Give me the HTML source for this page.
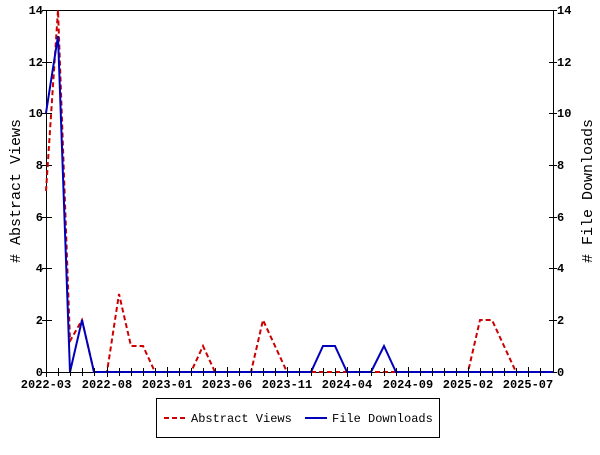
<!DOCTYPE html><html><head><style>body{margin:0;background:#fff}svg{font-family:"Liberation Mono",monospace}</style></head><body>
<svg width="600" height="450" xmlns="http://www.w3.org/2000/svg">
<rect width="600" height="450" fill="#fff"/>
<g stroke="#000" stroke-width="1" fill="none">
<rect x="46.5" y="10.5" width="507" height="362"/>
<path d="M42,372.5h10M42,320.5h10M42,268.5h10M42,217.5h10M42,165.5h10M42,113.5h10M42,62.5h10M42,10.5h10M549,372.5h8M549,320.5h8M549,268.5h8M549,217.5h8M549,165.5h8M549,113.5h8M549,62.5h8M549,10.5h8"/>
</g>
<g font-size="12" font-weight="bold" fill="#000" text-anchor="end">
<text x="43" y="376">0</text><text x="43" y="324">2</text><text x="43" y="272">4</text><text x="43" y="221">6</text><text x="43" y="169">8</text><text x="43" y="117">10</text><text x="43" y="66">12</text><text x="43" y="14">14</text>
</g>
<g font-size="12" font-weight="bold" fill="#000" text-anchor="start">
<text x="557" y="376">0</text><text x="557" y="324">2</text><text x="557" y="272">4</text><text x="557" y="221">6</text><text x="557" y="169">8</text><text x="557" y="117">10</text><text x="557" y="66">12</text><text x="557" y="14">14</text>
</g>
<g font-size="12" font-weight="bold" fill="#000" text-anchor="middle">
<text x="46" y="388">2022-03</text><text x="107" y="388">2022-08</text><text x="167" y="388">2023-01</text><text x="227" y="388">2023-06</text><text x="287" y="388">2023-11</text><text x="347" y="388">2024-04</text><text x="408" y="388">2024-09</text><text x="468" y="388">2025-02</text><text x="528" y="388">2025-07</text>
</g>
<text transform="translate(20,191) rotate(-90)" font-size="15" text-anchor="middle" fill="#000">&#35; Abstract Views</text>
<text transform="translate(592,191) rotate(-90)" font-size="15" text-anchor="middle" fill="#000">&#35; File Downloads</text>
<polyline fill="none" stroke="#cc0000" stroke-width="2" stroke-dasharray="5,3" points="46,191 58,10 70,341 82,320 94,372 107,372 119,294 131,346 143,346 155,372 167,372 179,372 191,372 203,346 215,372 227,372 239,372 251,372 263,320 275,346 287,372 299,372 311,372 323,372 335,372 347,372 359,372 371,372 384,372 396,372 408,372 420,372 432,372 444,372 456,372 468,372 480,320 492,320 504,346 516,372 528,372 540,372 553,372"/>
<polyline fill="none" stroke="#0000bb" stroke-width="2" points="46,113 58,36 70,372 82,320 94,372 107,372 119,372 131,372 143,372 155,372 167,372 179,372 191,372 203,372 215,372 227,372 239,372 251,372 263,372 275,372 287,372 299,372 311,372 323,346 335,346 347,372 359,372 371,372 384,346 396,372 408,372 420,372 432,372 444,372 456,372 468,372 480,372 492,372 504,372 516,372 528,372 540,372 553,372"/>
<g stroke="#000">
<path d="M46.5,367v10M58.5,368v8M70.5,368v8M82.5,368v8M94.5,368v8M107.5,367v10M119.5,368v8M131.5,368v8M143.5,368v8M155.5,368v8M167.5,367v10M179.5,368v8M191.5,368v8M203.5,368v8M215.5,368v8M227.5,367v10M239.5,368v8M251.5,368v8M263.5,368v8M275.5,368v8M287.5,367v10M299.5,368v8M311.5,368v8M323.5,368v8M335.5,368v8M347.5,367v10M359.5,368v8M371.5,368v8M384.5,368v8M396.5,368v8M408.5,367v10M420.5,368v8M432.5,368v8M444.5,368v8M456.5,368v8M468.5,367v10M480.5,368v8M492.5,368v8M504.5,368v8M516.5,368v8M528.5,367v10M540.5,368v8"/>
</g>
<rect x="156.5" y="398.5" width="283" height="39" fill="#fff" stroke="#000"/>
<line x1="164" y1="418" x2="186" y2="418" stroke="#cc0000" stroke-width="2" stroke-dasharray="5,3"/>
<text x="191" y="422" font-size="12" fill="#000">Abstract Views</text>
<line x1="305" y1="418" x2="327" y2="418" stroke="#0000bb" stroke-width="2"/>
<text x="332" y="422" font-size="12" fill="#000">File Downloads</text>
</svg></body></html>
